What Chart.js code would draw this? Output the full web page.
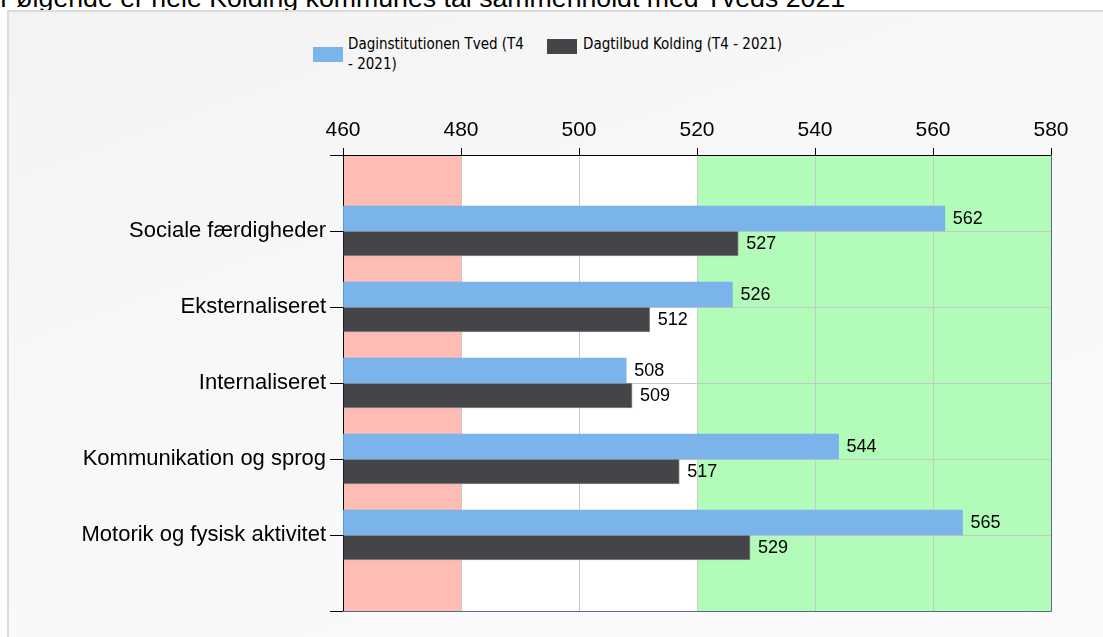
<!DOCTYPE html>
<html lang="da">
<head>
<meta charset="utf-8">
<title>Kolding / Tved 2021</title>
<script src="https://cdn.jsdelivr.net/npm/chart.js@4/dist/chart.umd.min.js"></script>
<style>
  html, body { margin: 0; padding: 0; background: #fff; overflow: hidden; }
  body { width: 1103px; height: 637px; position: relative; font-family: "Liberation Sans", Arial, sans-serif; }
  .title { position: absolute; left: 0; top: -15px; font-size: 26.7px; line-height: 27px; color: #000; white-space: nowrap; }
  .panel {
    position: absolute; left: 7px; top: 10px; right: -20px; bottom: -20px;
    border-left: 2px solid #dcdcdc; border-top: 2px solid #dcdcdc;
    background: linear-gradient(160deg, #f3f3f3 0%, #f8f8f8 40%, #fafafa 100%);
  }
  #chart { position: absolute; left: 0; top: 0; }
  .legend { position: absolute; font-family: "DejaVu Sans Condensed", "DejaVu Sans", sans-serif; font-size: 15px; line-height: 20px; color: #000; }
  .swatch { position: absolute; width: 30px; height: 15px; }
</style>
</head>
<body>
<div class="title">Følgende er hele Kolding kommunes tal sammenholdt med Tveds 2021</div>
<div class="panel"></div>

<div class="swatch" id="sw0" style="left:313px; top:47px;"></div>
<div class="legend" id="lg0" style="left:348px; top:34px;">Daginstitutionen Tved (T4<br>- 2021)</div>
<div class="swatch" id="sw1" style="left:547px; top:39px;"></div>
<div class="legend" id="lg1" style="left:583px; top:34px;">Dagtilbud Kolding (T4 - 2021)</div>

<canvas id="chart" width="1103" height="637"></canvas>

<script>
// categories and values
const categories = ['Sociale færdigheder', 'Eksternaliseret', 'Internaliseret', 'Kommunikation og sprog', 'Motorik og fysisk aktivitet'];
const tvedValues = [562, 526, 508, 544, 565];
const koldingValues = [527, 512, 509, 517, 529];
const seriesNames = ['Daginstitutionen Tved (T4 - 2021)', 'Dagtilbud Kolding (T4 - 2021)'];
const xTicks = [460, 480, 500, 520, 540, 560, 580];

// colored bands behind the plot (value ranges)
const bands = [
  { from: 460, to: 480, color: '#fdbcb4' },
  { from: 480, to: 520, color: '#ffffff' },
  { from: 520, to: 580, color: '#b3fbb9' }
];

const blue = '#7ab4ea';
const dark = '#454448';

document.getElementById('sw0').style.background = blue;
document.getElementById('sw1').style.background = dark;

// empty slot above and below the categories, like the original
const labels = [''].concat(categories, ['']);
const pad = arr => [null].concat(arr, [null]);

const bandsPlugin = {
  id: 'bands',
  beforeDraw(chart) {
    const ctx = chart.ctx;
    const x = chart.scales.x;
    const area = chart.chartArea;
    ctx.save();
    bands.forEach(b => {
      const x0 = x.getPixelForValue(b.from);
      const x1 = x.getPixelForValue(b.to);
      ctx.fillStyle = b.color;
      ctx.fillRect(x0, area.top, x1 - x0, area.bottom - area.top);
    });
    ctx.restore();
  },
  afterDraw(chart) {
    // right and bottom frame
    const ctx = chart.ctx;
    const a = chart.chartArea;
    ctx.save();
    ctx.strokeStyle = '#556b8c';
    ctx.lineWidth = 1;
    ctx.beginPath();
    ctx.moveTo(Math.round(a.right) + 0.5, a.top);
    ctx.lineTo(Math.round(a.right) + 0.5, Math.round(a.bottom) + 0.5);
    ctx.lineTo(a.left, Math.round(a.bottom) + 0.5);
    ctx.stroke();
    ctx.restore();
  }
};

// value labels at the end of each bar
const valueLabels = {
  id: 'valueLabels',
  afterDatasetsDraw(chart) {
    const ctx = chart.ctx;
    ctx.save();
    ctx.font = '18px "Liberation Sans", Arial, sans-serif';
    ctx.fillStyle = '#000';
    ctx.textAlign = 'left';
    ctx.textBaseline = 'middle';
    chart.data.datasets.forEach((ds, i) => {
      chart.getDatasetMeta(i).data.forEach((bar, j) => {
        const v = ds.data[j];
        if (v == null) return;
        ctx.fillText(String(v), bar.x + 8, bar.y + 1);
      });
    });
    ctx.restore();
  }
};

const ctx = document.getElementById('chart').getContext('2d');
const chart = new Chart(ctx, {
  type: 'bar',
  data: {
    labels: labels,
    datasets: [{
      label: seriesNames[0],
      data: pad(tvedValues),
      backgroundColor: blue,
      borderWidth: 0
    }, {
      label: seriesNames[1],
      data: pad(koldingValues),
      backgroundColor: dark,
      borderColor: '#8a8a8e',
      borderWidth: 1
    }]
  },
  options: {
    indexAxis: 'y',
    responsive: false,
    animation: false,
    events: [],
    base: 460,
    barThickness: 25,
    layout: { padding: { left: 0, top: 0, right: 52, bottom: 26 } },
    plugins: {
      legend: { display: false },
      tooltip: { enabled: false }
    },
    scales: {
      x: {
        position: 'top',
        min: xTicks[0],
        max: xTicks[xTicks.length - 1],
        afterBuildTicks(scale) {
          scale.ticks = xTicks.map(v => ({ value: v }));
        },
        afterFit(scale) { scale.height = 155; },
        ticks: {
          color: '#000',
          padding: 5,
          font: { family: '"Liberation Sans", Arial, sans-serif', size: 21 }
        },
        grid: { color: '#c8c8c8', tickColor: '#000', tickLength: 7, lineWidth: 1 },
        border: { color: '#000', width: 1 }
      },
      y: {
        offset: false,
        afterFit(scale) { scale.width = 343; },
        ticks: {
          color: '#000',
          padding: 4,
          autoSkip: false,
          font: { family: '"Liberation Sans", Arial, sans-serif', size: 22 }
        },
        grid: { offset: false, color: '#c8c8c8', tickColor: '#000', tickLength: 13, lineWidth: 1 },
        border: { color: '#000', width: 1 }
      }
    }
  },
  plugins: [bandsPlugin, valueLabels]
});
</script>
</body>
</html>
